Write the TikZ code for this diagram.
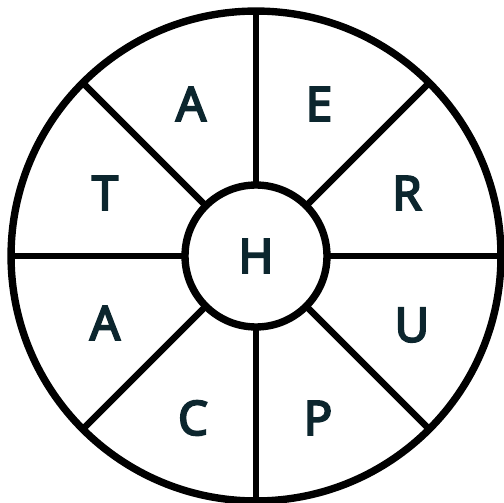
\documentclass[tikz,border=0pt]{standalone}
\usepackage{fontspec}
\newfontfamily\ltrfont[FakeBold=4]{Noto Sans}
\usetikzlibrary{positioning}
\definecolor{clrL}{RGB}{12,38,46}

\begin{document}
\begin{tikzpicture}[x=0.02cm,y=-0.02cm,
   rim/.style={circle,draw=black,line width=4.2pt,minimum size=9.8cm,
     inner sep=0pt,outer sep=0pt},
   hub/.style={circle,draw=black,fill=white,line width=4.2pt,minimum size=2.84cm,
     inner sep=0pt,outer sep=0pt,text=clrL,
     font=\ltrfont\fontsize{27}{27}\selectfont},
   ltr/.style={text=clrL,inner sep=0pt,
     font=\ltrfont\fontsize{27}{27}\selectfont},
   spoke/.style={draw=black,line width=3.8pt}]

  \useasboundingbox (0,0) rectangle (504,503);

  \node[rim] (rim) at (256,256) {};
  \node[hub] (hub) at (256,256) {H};

  \foreach \a in {0,45,...,315}
    \draw[spoke] (hub.\a) -- (rim.\a);

  \node[ltr] (la1) at (191,104) {A};
  \node[ltr] (le)  at (319,104) {E};
  \node[ltr] (lt)  at (105,193) {T};
  \node[ltr] (lr)  at (407,193) {R};
  \node[ltr] (la2) at (105,323) {A};
  \node[ltr] (lu)  at (412,325) {U};
  \node[ltr] (lc)  at (193,418) {C};
  \node[ltr] (lp)  at (318,418) {P};
\end{tikzpicture}
\end{document}
